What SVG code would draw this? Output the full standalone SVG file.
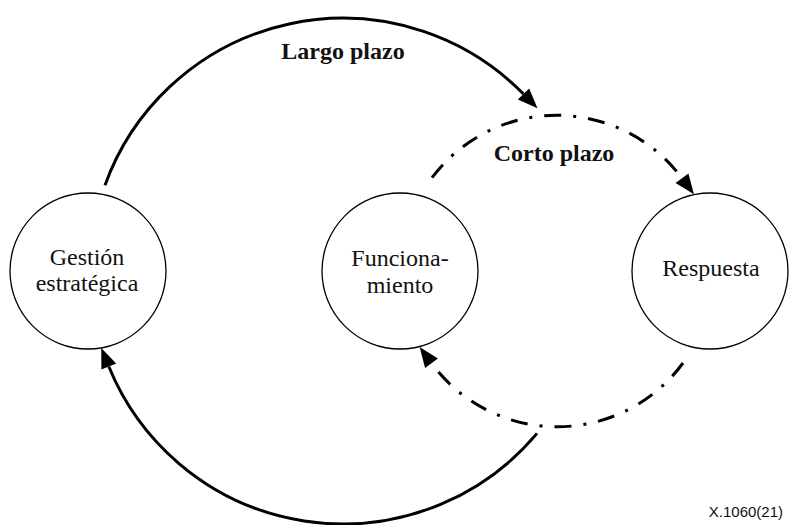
<svg xmlns="http://www.w3.org/2000/svg" width="791" height="525" viewBox="0 0 791 525">
  <style>
    .node { fill: #fff; stroke: #000; stroke-width: 1.3; }
    .lbl { font-family: 'Liberation Serif', 'DejaVu Serif', serif; font-size: 24px; fill: #111; text-anchor: middle; }
    .arclbl { font-family: 'Liberation Serif', 'DejaVu Serif', serif; font-size: 24px; font-weight: bold; fill: #111; text-anchor: middle; }
    .solid { fill: none; stroke: #000; stroke-width: 3; }
    .dashdot { fill: none; stroke: #000; stroke-width: 3; stroke-dasharray: 17 12 3 12; }
    .ref { font-family: 'Liberation Sans', Arial, sans-serif; font-size: 15px; fill: #111; text-anchor: end; }
  </style>
  <defs>
    <marker id="arrow" markerUnits="userSpaceOnUse" markerWidth="21" markerHeight="17" refX="0" refY="8" orient="auto" overflow="visible">
      <path d="M0,0 L20,8 L0,16 Z" fill="#000" stroke="none"/>
    </marker>
  </defs>

  <g id="node-gestion">
    <circle class="node" cx="88" cy="271" r="78"/>
    <text class="lbl" x="87" y="265">Gestión</text>
    <text class="lbl" x="87" y="291">estratégica</text>
  </g>
  <g id="node-funcionamiento">
    <circle class="node" cx="400" cy="271" r="78"/>
    <text class="lbl" x="400" y="266">Funciona-</text>
    <text class="lbl" x="400" y="293">miento</text>
  </g>
  <g id="node-respuesta">
    <circle class="node" cx="710" cy="271" r="78"/>
    <text class="lbl" x="711" y="276">Respuesta</text>
  </g>

  <g id="connectors">
    <path class="solid" d="M105 185.2 A253 253 0 0 1 523.5 94.0" marker-end="url(#arrow)"/>
    <path class="solid" d="M537 433.4 A253 253 0 0 1 108.8 366.5" marker-end="url(#arrow)"/>
    <path class="dashdot" d="M432 177.7 A156 156 0 0 1 682.0 178.2" marker-end="url(#arrow)"/>
    <path class="dashdot" d="M683 363 A156 156 0 0 1 431.5 363.2" marker-end="url(#arrow)"/>
    <text class="arclbl" x="343" y="59">Largo plazo</text>
    <text class="arclbl" x="554" y="161">Corto plazo</text>
  </g>

  <text class="ref" x="783" y="517">X.1060(21)</text>
</svg>
